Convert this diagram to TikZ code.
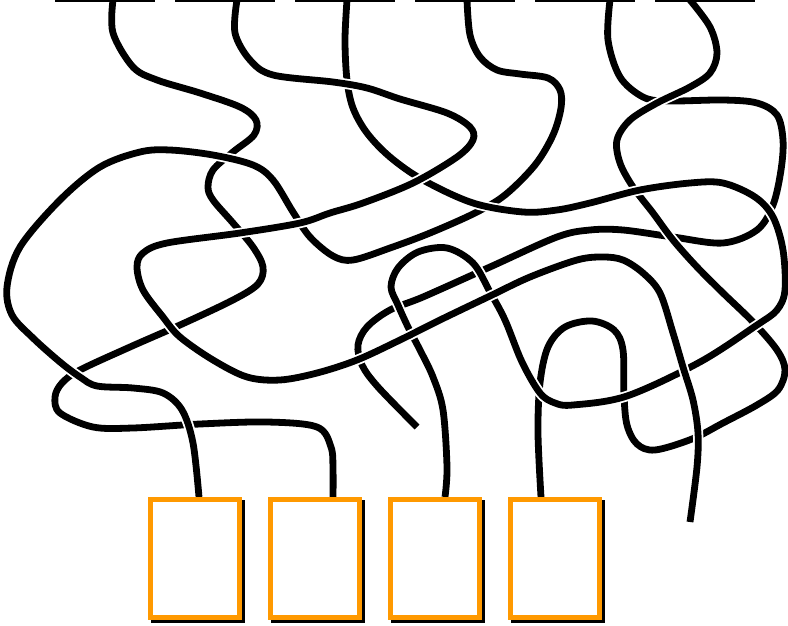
\documentclass[tikz,border=0pt]{standalone}
\usetikzlibrary{shadows}
\definecolor{boxorange}{RGB}{255,153,0}
\tikzset{
  strand/.style={draw=black, line width=6.8pt, line join=round, preaction={draw=white, line width=10.4pt}},
  boxnode/.style={draw=boxorange, fill=white, line width=5.5pt, minimum width=89pt, minimum height=118pt, inner sep=0pt,
    general shadow={fill=black, draw=black, line width=5.5pt, shadow xshift=3pt, shadow yshift=-3pt}},
  topbar/.style={draw=black, line width=4.5pt}
}
\begin{document}
\begin{tikzpicture}[x=1pt,y=-1pt]
\useasboundingbox (0,0) rectangle (788,626);
% strand ends
\coordinate (t1) at (113,0);
\coordinate (t2) at (237,0);
\coordinate (t3) at (347,0);
\coordinate (t4) at (467,0);
\coordinate (t5) at (610,0);
\coordinate (t6) at (690,0);
\coordinate (a1) at (199,497);
\coordinate (a2) at (333,497);
\coordinate (a3) at (445,497);
\coordinate (a4) at (541,497);
\coordinate (e1) at (417,427);
\coordinate (e2) at (690,522);
% strand A (bottom)
\draw[strand] plot[smooth, tension=0.55] coordinates {(t1) (113,33) (133,67) (157,80) (200,93) (240,107) (256,120) (254,135) (233,152) (213,170) (208,187) (213,200) (233,223) (253,247) (263,267) (258,284) (233,300) (180,325) (130,347) (80,370) (62,383) (55,397) (60,413) (93,427) (133,428) (200,424) (267,422) (317,427) (331,447) (333,470) (a2)};
% strand E
\draw[strand] plot[smooth, tension=0.55] coordinates {(t5) (608,40) (620,77) (643,97) (667,101) (723,100) (757,103) (777,115) (783,140) (781,170) (773,205) (757,230) (723,243) (673,237) (623,230) (590,230) (557,237) (490,267) (423,297) (390,310) (367,327) (358,345) (362,365) (378,387) (e1)};
% strand F
\draw[strand] plot[smooth, tension=0.55] coordinates {(t6) (710,27) (717,53) (710,73) (690,87) (657,103) (630,120) (617,140) (620,163) (633,187) (653,213) (673,240) (697,267) (723,293) (753,322) (777,350) (785,370) (778,390) (757,405) (723,423) (692,439) (655,450) (637,444) (627,425) (624,395) (623,350) (614,330) (592,321) (565,327) (548,347) (540,383) (538,433) (a4)};
% strand B
\draw[strand] plot[smooth, tension=0.55] coordinates {(t4) (470,35) (480,57) (497,70) (520,74) (548,78) (560,90) (561,108) (553,135) (535,165) (505,195) (475,213) (430,233) (390,248) (353,260) (333,256) (310,237) (293,212) (273,180) (253,165) (213,155) (170,150) (140,152) (100,167) (60,200) (20,247) (7,287) (12,315) (33,338) (60,362) (80,377) (97,386) (133,388) (163,393) (182,410) (193,443) (a1)};
% strand D
\draw[strand] plot[smooth, tension=0.55] coordinates {(t3) (345,40) (347,80) (353,108) (367,133) (390,157) (423,180) (473,203) (523,212) (557,210) (590,203) (640,190) (690,183) (723,183) (755,197) (773,217) (783,250) (785,290) (777,310) (757,325) (700,362) (627,396) (573,405) (555,403) (540,393) (522,362) (505,320) (490,292) (473,263) (447,248) (418,252) (398,268) (391,287) (398,305) (408,327) (420,350) (433,377) (443,410) (447,467) (a3)};
% strand C (top)
\draw[strand] plot[smooth, tension=0.55] coordinates {(t2) (235,33) (250,60) (273,75) (333,82) (367,88) (400,99) (447,113) (470,127) (473,140) (457,157) (413,183) (363,203) (330,213) (300,223) (240,233) (167,243) (143,253) (137,267) (143,290) (163,317) (180,337) (213,360) (247,377) (280,380) (317,373) (357,360) (400,340) (440,320) (490,296) (530,277) (577,260) (603,257) (623,260) (643,273) (660,293) (673,333) (683,367) (693,400) (698,433) (697,467) (e2)};
% boxes
\node[boxnode] (b1) at (195,558.5) {};
\node[boxnode] (b2) at (315,558.5) {};
\node[boxnode] (b3) at (435,558.5) {};
\node[boxnode] (b4) at (555,558.5) {};
% top bars
\foreach \x in {55,175,295,415,535,655}{
  \draw[topbar] (\x,0) -- ++(100,0);
}
\end{tikzpicture}
\end{document}
